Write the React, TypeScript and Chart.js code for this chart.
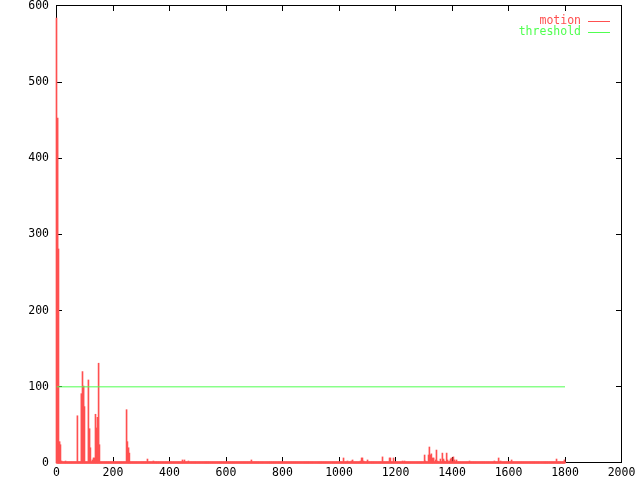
import { useEffect, useRef } from "react";
import { Chart, registerables } from "chart.js";

Chart.register(...registerables);

// motion impulses (time, value); all other samples in [sampleStart, sampleEnd] are 0
const motionTimes = [
  0, 4, 7, 11, 14, 18, 21, 32, 74, 78, 88, 92, 96, 99, 113, 117, 120, 124, 127, 131,
  134, 138, 142, 145, 149, 152, 248, 251, 255, 258, 262, 273, 322, 343, 446, 453, 464, 467,
  605, 687, 690, 1016, 1030, 1041, 1044, 1048, 1062, 1076, 1080, 1083, 1087, 1101, 1108,
  1119, 1126, 1154, 1179, 1182, 1193, 1225, 1232, 1303, 1306, 1317, 1320, 1324, 1327, 1331,
  1335, 1342, 1345, 1349, 1359, 1366, 1370, 1373, 1381, 1384, 1391, 1395, 1398, 1405, 1409,
  1416, 1462, 1550, 1565, 1572, 1611, 1770, 1777, 1788, 1791, 1798,
];
const motionValues = [
  584, 453, 281, 28, 24, 2.6, 1.3, 2.6, 62, 1.5, 91, 120, 101, 74, 109, 45, 20, 1.3, 4, 6.6,
  6.6, 64, 46, 60, 131, 24, 70, 28, 20, 13, 1.3, 1.3, 5.2, 2.6, 4, 4, 1.3, 2.6,
  1.3, 1.3, 4, 6.6, 2.6, 1.3, 2.6, 4, 1.3, 2.6, 6.6, 6.6, 2.6, 4, 1.3,
  1.3, 1.3, 8, 6.6, 6.6, 6.6, 2.6, 2.6, 10.5, 2.6, 10.5, 21, 10.5, 12, 6.6,
  6.6, 4, 17, 2.6, 5.2, 13, 5.2, 2.6, 13, 4, 2.6, 5.2, 6.6, 8, 4,
  4, 2.6, 2.6, 6.6, 2.6, 4, 5.2, 1.3, 1.3, 1.3, 4,
];
const sampleStart = 0;
const sampleEnd = 1800;
const sampleStep = 1;
const thresholdValue = 100;

const seriesLabels = ["motion", "threshold"];
const xTickRange = { min: 0, max: 2000, step: 200 };
const yTickRange = { min: 0, max: 600, step: 100 };

const RED = "#ff5050";
const GREEN = "#50ff50";
const FONT = '"DejaVu Sans Mono", monospace';

function buildMotion() {
  const map = new Map<number, number>();
  motionTimes.forEach((t, i) => map.set(t, motionValues[i]));
  const pts: { x: number; y: number }[] = [];
  for (let t = sampleStart; t <= sampleEnd; t += sampleStep) {
    if (!map.has(t)) pts.push({ x: t, y: 0 });
  }
  motionTimes.forEach((t, i) => pts.push({ x: t, y: motionValues[i] }));
  return pts;
}

const framePlugin = {
  id: "gnuframe",
  beforeDatasetsDraw(chart: any) {
    const { ctx, chartArea: a, scales } = chart;
    const lx = Math.floor(a.left);
    const rx = Math.floor(a.right);
    const ty = Math.round(a.top) - 1;
    const by = Math.round(a.bottom) - 1;
    ctx.save();
    ctx.fillStyle = "#000";
    ctx.fillRect(lx, ty, rx - lx + 1, 1);
    ctx.fillRect(lx, by, rx - lx + 1, 1);
    ctx.fillRect(lx, ty, 1, by - ty + 1);
    ctx.fillRect(rx, ty, 1, by - ty + 1);
    scales.x.ticks.forEach((t: any) => {
      const c = Math.floor(scales.x.getPixelForValue(t.value));
      ctx.fillRect(c, by - 5, 1, 6);
      ctx.fillRect(c, ty, 1, 6);
    });
    scales.y.ticks.forEach((t: any) => {
      const r = Math.ceil(scales.y.getPixelForValue(t.value)) - 1;
      ctx.fillRect(lx, r, 6, 1);
      ctx.fillRect(rx - 5, r, 6, 1);
    });
    ctx.restore();
  },
  afterDraw(chart: any) {
    const { ctx, chartArea: a } = chart;
    ctx.save();
    ctx.font = `11.5px ${FONT}`;
    ctx.textAlign = "right";
    ctx.textBaseline = "middle";
    chart.data.datasets.forEach((ds: any, i: number) => {
      const row = Math.round(a.top) + 15 + i * 11;
      ctx.fillStyle = ds.borderColor;
      ctx.fillText(ds.label, 581, row + 0.5);
      ctx.fillRect(588, row, 22, 1);
    });
    ctx.restore();
  },
};

export default function App() {
  const ref = useRef<HTMLCanvasElement | null>(null);
  useEffect(() => {
    if (!ref.current) return;
    Chart.defaults.font.family = FONT;
    Chart.defaults.font.size = 11.5;
    Chart.defaults.color = "#000";
    const chart = new Chart(ref.current, {
      type: "bar",
      data: {
        datasets: [
          {
            type: "bar",
            label: seriesLabels[0],
            data: buildMotion(),
            backgroundColor: RED,
            borderColor: RED,
            borderWidth: 0,
            barThickness: 1,
            minBarLength: 1,
            grouped: false,
            clip: false,
            order: 2,
          } as any,
          {
            type: "line",
            label: seriesLabels[1],
            data: [
              { x: sampleStart, y: thresholdValue },
              { x: sampleEnd, y: thresholdValue },
            ],
            borderColor: GREEN,
            backgroundColor: GREEN,
            borderWidth: 1,
            pointRadius: 0,
            fill: false,
            order: 1,
          } as any,
        ],
      },
      options: {
        animation: false,
        responsive: false,
        parsing: false as any,
        normalized: true,
        layout: { padding: { top: 6, right: 18.5, bottom: 0, left: 0 } },
        plugins: { legend: { display: false }, tooltip: { enabled: false } },
        scales: {
          x: {
            type: "linear",
            offset: false,
            min: xTickRange.min,
            max: xTickRange.max,
            ticks: {
              stepSize: xTickRange.step,
              maxRotation: 0,
              autoSkip: false,
              padding: 3,
              callback: (v: any) => String(v),
            },
            grid: { display: false, drawTicks: false },
            border: { display: false },
            afterFit: (s: any) => {
              s.height = 17;
              s.paddingLeft = 0;
              s.paddingRight = 0;
            },
          },
          y: {
            type: "linear",
            min: yTickRange.min,
            max: yTickRange.max,
            ticks: { stepSize: yTickRange.step, padding: 7.5, callback: (v: any) => String(v) },
            grid: { display: false, drawTicks: false },
            border: { display: false },
            afterFit: (s: any) => {
              s.width = 56.5;
              s.paddingTop = 0;
              s.paddingBottom = 0;
            },
          },
        },
      } as any,
      plugins: [framePlugin],
    });
    return () => chart.destroy();
  }, []);
  return (
    <div style={{ position: "absolute", left: 0, top: 0, width: 640, height: 480, background: "#fff" }}>
      <canvas ref={ref} width={640} height={480} style={{ display: "block" }} />
    </div>
  );
}
